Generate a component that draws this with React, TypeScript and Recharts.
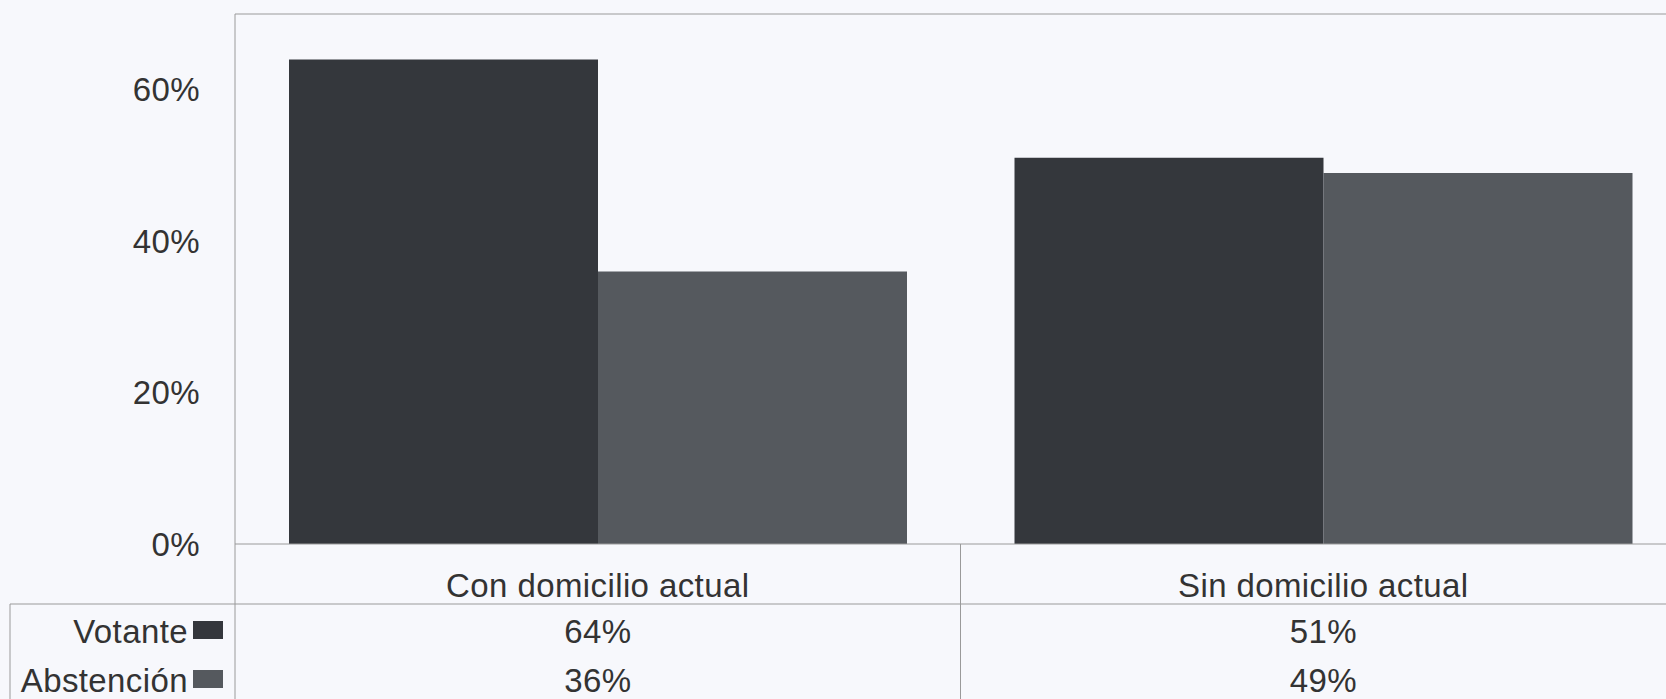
import React from "react";
import { BarChart, Bar, XAxis, YAxis, ReferenceLine } from "recharts";

const categories = ["Con domicilio actual", "Sin domicilio actual"];
const seriesNames = ["Votante", "Abstención"];
const votante = [64, 51];
const abstencion = [36, 49];
const yTicks = [0, 20, 40, 60];
const yMax = 70;

const seriesKeys = ["votante", "abstencion"];
const seriesColors = ["#34373c", "#55595e"];

const data = categories.map((name, i) => ({
    name,
    votante: votante[i],
    abstencion: abstencion[i],
}));

const W = 1700;
const H = 699;
const PLOT_LEFT = 235;
const PLOT_RIGHT = 1686;
const PLOT_TOP = 14;
const PLOT_BOTTOM = 544;
const BAND = (PLOT_RIGHT - PLOT_LEFT) / categories.length;

const LINE = "#9a9a9a";
const TEXT = "#333333";
const FONT = "'Liberation Sans', Arial, sans-serif";

const textStyle = {
    fontSize: 33,
    fontFamily: FONT,
    fill: TEXT,
    letterSpacing: 0.4,
};

const TableTick = (props: any) => {
    const {x, y, payload, index} = props;
    const i = index ?? 0;
    const half = BAND / 2;
    return (
        <g>
            {/* vertical divider at left edge of the band */}
            <line x1={x - half} y1={y} x2={x - half} y2={H} stroke={LINE} strokeWidth={1}/>
            <text x={x} y={y + 41} textAnchor="middle" dominantBaseline="central" style={textStyle}>
                {payload.value}
            </text>
            {seriesKeys.map((k, r) => (
                <text
                    key={k}
                    x={x}
                    y={y + 87 + r * 49}
                    textAnchor="middle"
                    dominantBaseline="central"
                    style={textStyle}
                >
                    {`${(data[i] as any)[k]}%`}
                </text>
            ))}
            {i === 0 && (
                <g>
                    <line x1={10} y1={y + 60} x2={W} y2={y + 60} stroke={LINE} strokeWidth={1}/>
                    <line x1={10} y1={y + 60} x2={10} y2={H} stroke={LINE} strokeWidth={1}/>
                    {seriesNames.map((n, r) => (
                        <g key={n}>
                            <text
                                x={188}
                                y={y + 87 + r * 49}
                                textAnchor="end"
                                dominantBaseline="central"
                                style={textStyle}
                            >
                                {n}
                            </text>
                            <rect x={193} y={y + 77 + r * 49} width={30} height={18} fill={seriesColors[r]}/>
                        </g>
                    ))}
                </g>
            )}
        </g>
    );
};

export default function App() {
    return (
        <div
            style={{
                position: "absolute",
                left: 0,
                top: 0,
                width: 1666,
                height: H,
                overflow: "hidden",
                background: "#f7f8fc",
            }}
        >
            <BarChart
                width={W}
                height={H}
                data={data}
                barGap={0}
                margin={{top: PLOT_TOP, right: W - PLOT_RIGHT, left: 0, bottom: 0}}
            >
                <XAxis
                    dataKey="name"
                    height={H - PLOT_BOTTOM}
                    tickSize={0}
                    tickMargin={0}
                    tickLine={false}
                    axisLine={{stroke: LINE}}
                    tick={<TableTick/>}
                    interval={0}
                />
                <YAxis
                    width={PLOT_LEFT}
                    domain={[0, yMax]}
                    ticks={yTicks}
                    tickFormatter={(v: number) => `${v}%`}
                    tickSize={0}
                    tickMargin={35}
                    tickLine={false}
                    axisLine={{stroke: LINE}}
                    tick={{...textStyle}}
                />
                <ReferenceLine y={yMax} stroke={LINE} strokeWidth={1} ifOverflow="visible"/>
                {seriesKeys.map((k, r) => (
                    <Bar
                        key={k}
                        dataKey={k}
                        name={seriesNames[r]}
                        fill={seriesColors[r]}
                        barSize={309}
                        isAnimationActive={false}
                    />
                ))}
            </BarChart>
        </div>
    );
}
